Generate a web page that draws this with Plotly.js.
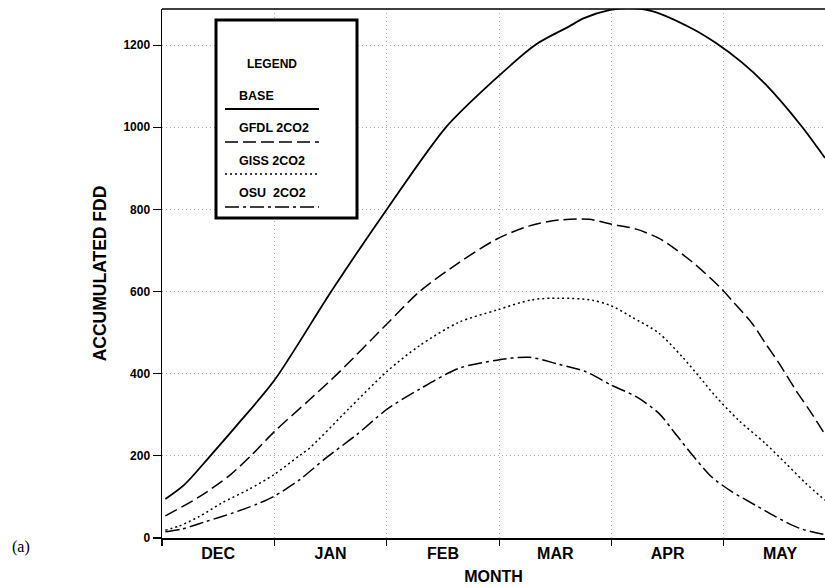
<!DOCTYPE html>
<html>
<head>
<meta charset="utf-8">
<script src="https://cdn.plot.ly/plotly-3.0.1.min.js"></script>
<style>
  html, body { margin: 0; padding: 0; background: #fff; }
  #chart { width: 825px; height: 587px; }
</style>
</head>
<body>
<div id="chart"></div>
<script>
// x values are months elapsed since 1 December (0 = start of DEC)
const monthLabels = ["DEC", "JAN", "FEB", "MAR", "APR", "MAY"];
const monthCenters = [0.5, 1.5, 2.5, 3.5, 4.5, 5.5];

const baseX = [0.03, 0.2, 0.43, 0.69, 1.0, 1.51, 2.0, 2.53, 2.94, 3.33, 3.62, 3.75, 3.98, 4.15, 4.36, 4.72, 4.93, 5.16, 5.37, 5.69, 5.9];
const baseY = [95, 130, 200, 282, 384, 602, 800, 1001, 1111, 1202, 1245, 1265, 1285, 1290, 1283, 1240, 1205, 1158, 1105, 1003, 925];

const gfdlX = [0.03, 0.33, 0.6, 0.79, 1.0, 1.31, 1.57, 1.99, 2.3, 2.64, 2.98, 3.27, 3.53, 3.8, 4.0, 4.22, 4.42, 4.58, 4.75, 4.96, 5.07, 5.25, 5.37, 5.49, 5.64, 5.76, 5.9];
const gfdlY = [54, 100, 152, 200, 259, 336, 402, 518, 602, 670, 728, 760, 774, 776, 764, 752, 730, 701, 665, 612, 579, 523, 474, 426, 360, 312, 252];

const gissX = [0.03, 0.15, 0.33, 0.53, 0.77, 1.0, 1.22, 1.31, 1.66, 2.0, 2.29, 2.64, 2.98, 3.29, 3.53, 3.83, 4.0, 4.18, 4.42, 4.63, 4.78, 4.93, 5.13, 5.37, 5.55, 5.73, 5.9];
const gissY = [19, 29, 52, 85, 118, 155, 200, 218, 314, 405, 468, 525, 555, 580, 584, 579, 565, 538, 499, 441, 393, 344, 287, 230, 182, 133, 92];

const osuX = [0.03, 0.18, 0.39, 0.62, 0.84, 1.0, 1.22, 1.46, 1.73, 2.0, 2.29, 2.64, 2.98, 3.27, 3.53, 3.77, 4.0, 4.22, 4.42, 4.58, 4.72, 4.89, 5.07, 5.28, 5.46, 5.67, 5.9];
const osuY = [15, 22, 40, 60, 82, 102, 141, 195, 251, 313, 362, 413, 433, 440, 423, 405, 372, 344, 304, 250, 202, 149, 113, 80, 52, 24, 8];

const seriesNames = ["BASE", "GFDL 2CO2", "GISS 2CO2", "OSU&nbsp;&nbsp;2CO2"];
const dashes = ["solid", "13px,5px", "2px,3px", "14px,4px,3px,4px"];
const widths = [1.8, 1.5, 1.5, 1.5];

const xs = [baseX, gfdlX, gissX, osuX];
const ys = [baseY, gfdlY, gissY, osuY];

const FONT = "Liberation Sans, Arial, sans-serif";

const traces = xs.map((x, i) => ({
  type: "scatter",
  mode: "lines",
  x: x,
  y: ys[i],
  name: seriesNames[i],
  line: { color: "#000", width: widths[i], dash: dashes[i], shape: "spline", smoothing: 0.8 },
  showlegend: false,
  hoverinfo: "skip"
}));

// custom legend box (text above line sample)
const legLeft = 225, legRight = 319; // pixel positions
const plotL = 162, plotW = 663, plotT = 9, plotH = 529;
const px = v => (v - plotL) / plotW;
const py = v => 1 - (v - plotT) / plotH;

const legendRows = [109, 142, 174, 207];
const legendText = [96, 128, 161, 193];

const shapes = [
  { type: "line", xref: "paper", yref: "paper", x0: 0, x1: 1, y0: 1, y1: 1, line: { color: "#000", width: 1.5 } },
  { type: "rect", xref: "paper", yref: "paper", x0: px(216), x1: px(357), y0: py(20), y1: py(218),
    line: { color: "#000", width: 3 }, fillcolor: "#fff", layer: "above" }
];
legendRows.forEach((r, i) => {
  shapes.push({ type: "line", xref: "paper", yref: "paper", x0: px(legLeft), x1: px(legRight), y0: py(r), y1: py(r),
    line: { color: "#000", width: widths[i], dash: dashes[i] }, layer: "above" });
});

const annotations = [
  { xref: "paper", yref: "paper", x: px(272), y: py(64), text: "LEGEND", showarrow: false,
    xanchor: "center", yanchor: "middle", font: { family: FONT, size: 12, color: "#000", weight: "bold" } },
  { xref: "paper", yref: "paper", x: px(21), y: py(547), text: "(a)", showarrow: false,
    xanchor: "center", yanchor: "middle", font: { family: "Liberation Serif, Times New Roman, serif", size: 16, color: "#000" } }
];
seriesNames.forEach((n, i) => {
  annotations.push({ xref: "paper", yref: "paper", x: px(237), y: py(legendText[i]), text: n, showarrow: false,
    xanchor: "left", yanchor: "middle", font: { family: FONT, size: 12.5, color: "#000", weight: "bold" } });
});

const layout = {
  width: 825, height: 587,
  margin: { l: plotL, r: 0, t: plotT, b: 587 - plotT - plotH, pad: 0 },
  paper_bgcolor: "#fff", plot_bgcolor: "#fff",
  showlegend: false,
  xaxis: {
    range: [0, 5.9],
    tickmode: "array", tickvals: monthCenters, ticktext: monthLabels,
    ticks: "", showgrid: false, zeroline: false,
    showline: true, linecolor: "#000", linewidth: 1.5,
    tickfont: { family: FONT, size: 16, color: "#000", weight: "bold" },
    minor: { tick0: 0, dtick: 1, ticks: "outside", ticklen: 6, tickwidth: 1.2, tickcolor: "#000",
             showgrid: true, gridcolor: "#aaa", gridwidth: 1, griddash: "1px,3px" },
    title: { text: "MONTH", standoff: 10, font: { family: FONT, size: 16, color: "#000", weight: "bold" } },
    fixedrange: true
  },
  yaxis: {
    range: [0, 1288],
    tickmode: "array", tickvals: [0, 200, 400, 600, 800, 1000, 1200],
    ticks: "outside", ticklen: 8, tickwidth: 1.2, tickcolor: "#000",
    showgrid: true, gridcolor: "#aaa", gridwidth: 1, griddash: "1px,3px",
    zeroline: false, showline: true, linecolor: "#000", linewidth: 1.5,
    tickfont: { family: FONT, size: 12, color: "#000", weight: "bold" },
    title: { text: "ACCUMULATED FDD", standoff: 12, font: { family: FONT, size: 17.5, color: "#000", weight: "bold" } },
    fixedrange: true
  },
  shapes: shapes,
  annotations: annotations
};

Plotly.newPlot("chart", traces, layout, { displayModeBar: false, staticPlot: true });
</script>
</body>
</html>
